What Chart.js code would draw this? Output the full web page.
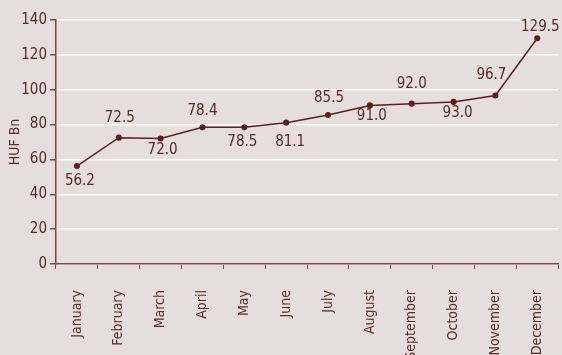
<!DOCTYPE html>
<html>
<head>
<meta charset="utf-8">
<script src="https://cdn.jsdelivr.net/npm/chart.js@4"></script>
<style>
  html, body { margin: 0; padding: 0; background: #e5dedc; }
  #wrap { width: 562px; height: 355px; }
</style>
</head>
<body>
<div id="wrap"><canvas id="myChart" width="562" height="355"></canvas></div>
<script>
const months = ['January','February','March','April','May','June','July','August','September','October','November','December']
const values = [56.2, 72.5, 72.0, 78.4, 78.5, 81.1, 85.5, 91.0, 92.0, 93.0, 96.7, 129.5]
const yTicks = [0, 20, 40, 60, 80, 100, 120, 140]

const textColor = '#5b2a24'
const axisColor = '#7a4a44'
const lineColor = '#5c1f1c'
const font = '"Liberation Sans Narrow", "DejaVu Sans Condensed", "Arial Narrow", sans-serif'

// value labels, each nudged off its point (above or below) like the original
const valueLabels = {
  id: 'valueLabels',
  afterDatasetsDraw(chart) {
    const shift = [[3,15],[1,-20],[2,12],[0,-16],[-2,15],[4,19],[1,-17],[2,11],[0,-20],[4,11],[-4,-20],[3,-11]]
    const ctx = chart.ctx
    const meta = chart.getDatasetMeta(0)
    ctx.save()
    ctx.font = '15px ' + font
    ctx.fillStyle = textColor
    ctx.textAlign = 'center'
    ctx.textBaseline = 'middle'
    meta.data.forEach((pt, i) => {
      const s = shift[i] || [0, -16]
      ctx.fillText(values[i].toFixed(1), pt.x + s[0], pt.y + s[1])
    })
    ctx.restore()
  }
}

const ctx = document.getElementById('myChart')
const myChart = new Chart(ctx, {
  type: 'line',
  data: {
    labels: months,
    datasets: [{
      data: values,
      borderColor: lineColor,
      backgroundColor: lineColor,
      borderWidth: 1.5,
      pointRadius: 2.3,
      pointHoverRadius: 2.3,
      tension: 0
    }]
  },
  options: {
    responsive: false,
    animation: false,
    layout: { padding: { top: 20, right: 2, left: 0, bottom: 0 } },
    plugins: { legend: { display: false }, tooltip: { enabled: false } },
    scales: {
      x: {
        offset: true,
        grid: { offset: true, drawOnChartArea: false, tickLength: 5, color: axisColor, tickColor: axisColor },
        border: { color: axisColor, width: 1.5 },
        ticks: {
          autoSkip: false, minRotation: 90, maxRotation: 90, padding: 21,
          color: textColor, font: { family: font, size: 14 }
        },
        afterFit(scale) {
          scale.height = 91
          scale.paddingLeft = 0
          scale.paddingRight = 0
        }
      },
      y: {
        min: 0, max: 140,
        afterBuildTicks(scale) { scale.ticks = yTicks.map(v => ({ value: v })) },
        grid: { color: '#ffffff', lineWidth: 1.5, tickLength: 6, tickColor: axisColor },
        border: { color: axisColor, width: 1.5 },
        ticks: { padding: 3, color: textColor, font: { family: font, size: 15 } },
        title: { display: true, text: 'HUF Bn', color: textColor, font: { family: font, size: 14 }, padding: { top: 7, bottom: 0 } },
        afterFit(scale) { scale.width = 56 }
      }
    }
  },
  plugins: [valueLabels]
})
</script>
</body>
</html>
